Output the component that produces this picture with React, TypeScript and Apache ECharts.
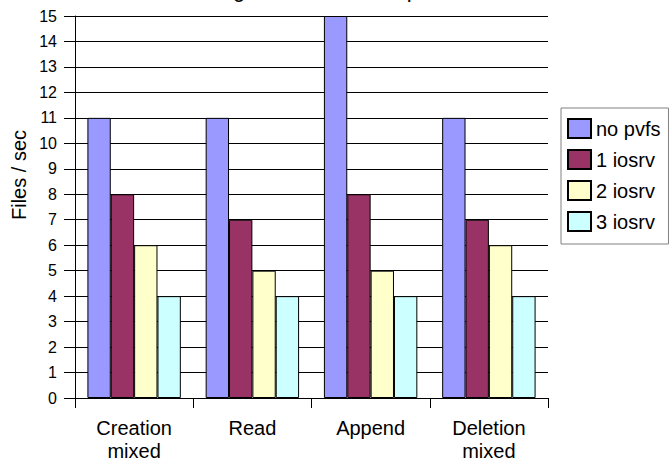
import React, { useEffect, useRef } from "react";
import * as echarts from "echarts";

const FONT = "'Liberation Sans', Arial, sans-serif";

const categories = ["Creation\nmixed", "Read", "Append", "Deletion\nmixed"];
const seriesNames = ["no pvfs", "1 iosrv", "2 iosrv", "3 iosrv"];
const seriesColors = ["#9999FF", "#993366", "#FFFFCC", "#CCFFFF"];
const noPvfs = [11, 11, 15, 11];
const oneIosrv = [8, 7, 8, 7];
const twoIosrv = [6, 5, 5, 6];
const threeIosrv = [4, 4, 4, 4];
const seriesValues = [noPvfs, oneIosrv, twoIosrv, threeIosrv];

const chartTitle = "Using 16 clients, 1 kB per file";
const yAxisTitle = "Files / sec";

export default function App() {
  const ref = useRef<HTMLDivElement>(null);

  useEffect(() => {
    if (!ref.current) return;
    const chart = echarts.init(ref.current, null, { renderer: "svg" });

    chart.setOption({
      animation: false,
      backgroundColor: "#ffffff",
      textStyle: { fontFamily: FONT, color: "#000" },
      grid: { left: 75, top: 16, right: 122, height: 382, containLabel: false },
      graphic: [
        {
          type: "text",
          x: 189,
          y: -11,
          style: {
            text: chartTitle,
            font: `22px ${FONT}`,
            fill: "#000",
            textAlign: "left",
            textVerticalAlign: "middle",
          },
        },
        {
          type: "text",
          x: 19,
          y: 175,
          rotation: Math.PI / 2,
          style: {
            text: yAxisTitle,
            font: `20px ${FONT}`,
            fill: "#000",
            textAlign: "center",
            textVerticalAlign: "middle",
          },
        },
      ],
      legend: {
        orient: "vertical",
        left: 561,
        top: 108,
        padding: [10, 8, 12, 6],
        icon: "rect",
        itemWidth: 23,
        itemHeight: 19,
        itemGap: 10,
        borderColor: "#808080",
        borderWidth: 1,
        textStyle: { fontFamily: FONT, fontSize: 20, color: "#000" },
        data: seriesNames,
      },
      xAxis: {
        type: "category",
        data: categories,
        axisLine: { show: true, lineStyle: { color: "#000", width: 1 } },
        axisTick: { show: true, length: 10, lineStyle: { color: "#000" } },
        axisLabel: {
          margin: 18,
          align: "center",
          formatter: (v: string) =>
            v
              .split("\n")
              .map((l) => `{t|${l}}`)
              .join("\n"),
          rich: {
            t: { fontFamily: FONT, fontSize: 20, lineHeight: 23, color: "#000" },
          },
        },
        splitLine: { show: false },
      },
      yAxis: {
        type: "value",
        min: 0,
        max: 15,
        interval: 1,
        axisLine: { show: true, lineStyle: { color: "#000", width: 1 } },
        axisTick: { show: true, length: 11, lineStyle: { color: "#000" } },
        axisLabel: { margin: 18, fontFamily: FONT, fontSize: 16, color: "#000" },
        splitLine: { show: true, lineStyle: { color: "#000", width: 1 } },
      },
      series: seriesNames.map((name, i) => ({
        name,
        type: "bar",
        data: seriesValues[i],
        barGap: "0%",
        barCategoryGap: "21%",
        itemStyle: { color: seriesColors[i], borderColor: "#000", borderWidth: 1 },
      })),
    });

    return () => chart.dispose();
  }, []);

  return (
    <div
      ref={ref}
      style={{ position: "fixed", left: 0, top: 0, width: 670, height: 470 }}
    />
  );
}
